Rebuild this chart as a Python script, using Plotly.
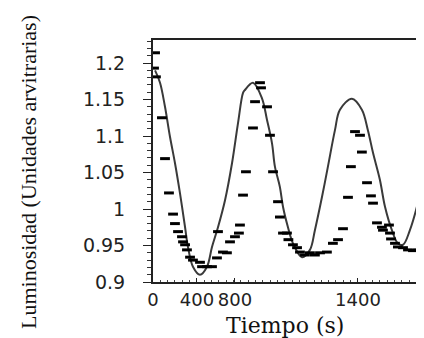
import plotly.graph_objects as go

# Model curve (solid line)
model_t = [14, 48, 82, 116, 150, 184, 219, 239, 273, 321, 369, 403, 444, 492, 540, 581,
           615, 628, 683, 744, 779, 813, 833, 867, 888, 922, 956, 1018, 1072, 1106, 1154,
           1195, 1243, 1277, 1359, 1427, 1468, 1503, 1550, 1585, 1632, 1673, 1708, 1755,
           1803, 1844, 1880]
model_lum = [1.190, 1.173, 1.140, 1.099, 1.063, 1.022, 0.975, 0.948, 0.921, 0.910, 0.921,
             0.948, 0.975, 1.012, 1.063, 1.118, 1.159, 1.163, 1.173, 1.152, 1.122, 1.090,
             1.058, 1.030, 1.003, 0.975, 0.953, 0.934, 0.944, 0.971, 1.016, 1.058, 1.108,
             1.136, 1.151, 1.136, 1.108, 1.077, 1.040, 1.003, 0.971, 0.953, 0.951, 0.971,
             1.003, 1.040, 1.080]

# Observed points (dashes)
obs_t = [14, 7, 20, 61, 82, 109, 137, 150, 171, 198, 205, 219, 232, 253, 273, 321, 335,
         369, 403, 437, 444, 478, 505, 526, 560, 587, 594, 615, 635, 683, 697, 731, 738,
         779, 799, 820, 854, 867, 888, 915, 925, 956, 984, 1004, 1038, 1072, 1106, 1141,
         1188, 1229, 1264, 1298, 1332, 1352, 1380, 1414, 1427, 1462, 1489, 1503, 1530,
         1564, 1571, 1612, 1619, 1626, 1653, 1673, 1708, 1742, 1776, 1810, 1844]
obs_lum = [1.214, 1.193, 1.181, 1.125, 1.069, 1.022, 0.993, 0.980, 0.969, 0.962, 0.955,
           0.951, 0.944, 0.934, 0.930, 0.927, 0.921, 0.921, 0.921, 0.933, 0.969, 0.941,
           0.940, 0.955, 0.962, 0.967, 0.978, 1.019, 1.051, 1.111, 1.147, 1.173, 1.166,
           1.140, 1.101, 1.051, 1.010, 0.989, 0.967, 0.967, 0.958, 0.951, 0.947, 0.941,
           0.937, 0.940, 0.937, 0.940, 0.941, 0.953, 0.958, 0.973, 1.016, 1.058, 1.106,
           1.101, 1.078, 1.036, 1.018, 1.008, 0.981, 0.975, 0.971, 0.978, 0.967, 0.959,
           0.953, 0.948, 0.947, 0.944, 0.943, 0.944, 0.947]

x_tick_vals = [0, 300, 560, 1400]
x_tick_text = ["0", "400", "800", "1400"]
y_tick_vals = [0.9, 0.95, 1.0, 1.05, 1.1, 1.15, 1.2]
y_tick_text = ["0.9", "0.95", "1", "1.05", "1.1", "1.15", "1.2"]

fig = go.Figure()
fig.add_trace(go.Scatter(x=model_t, y=model_lum, mode="lines", line_shape="spline",
                         line=dict(color="#3a3a3a", width=2), showlegend=False))
fig.add_trace(go.Scatter(x=obs_t, y=obs_lum, mode="markers", showlegend=False,
                         marker=dict(symbol="line-ew", size=7,
                                     line=dict(color="black", width=3))))

fig.update_layout(
    width=424, height=338,
    margin=dict(l=145, r=0, t=32, b=64),
    paper_bgcolor="white", plot_bgcolor="white",
    xaxis=dict(range=[0, 1906], tickmode="array", tickvals=x_tick_vals, ticktext=x_tick_text,
               tickangle=0,
               showgrid=False, zeroline=False, showline=True, linecolor="#222", linewidth=2,
               mirror=True, ticks="inside", ticklen=4, tickcolor="#222",
               minor=dict(tickmode="linear", tick0=0, dtick=50, ticks="inside", ticklen=2,
                          tickcolor="#444", showgrid=False),
               tickfont=dict(family="DejaVu Sans", size=18, color="#222")),
    yaxis=dict(range=[0.9, 1.2315], tickmode="array", tickvals=y_tick_vals, ticktext=y_tick_text,
               showgrid=False, zeroline=False, showline=True, linecolor="#222", linewidth=2,
               mirror=False, ticks="outside", ticklen=8, tickcolor="#222",
               ticklabelstandoff=14,
               minor=dict(tickmode="linear", tick0=0.9, dtick=0.01, ticks="outside", ticklen=4,
                          tickcolor="#333", showgrid=False),
               tickfont=dict(family="DejaVu Sans", size=19, color="#222")),
    annotations=[
        dict(text="Tiempo (s)", xref="paper", yref="paper", x=0.473, y=-0.178,
             showarrow=False, xanchor="center", yanchor="middle",
             font=dict(family="DejaVu Serif", size=22, color="#111")),
        dict(text="Luminosidad (Unidades arvitrarias)", xref="paper", yref="paper",
             x=-0.448, y=0.4545, textangle=-90, showarrow=False,
             xanchor="center", yanchor="middle",
             font=dict(family="Liberation Serif", size=22, color="#111")),
    ],
)

fig.write_html("out.html")
